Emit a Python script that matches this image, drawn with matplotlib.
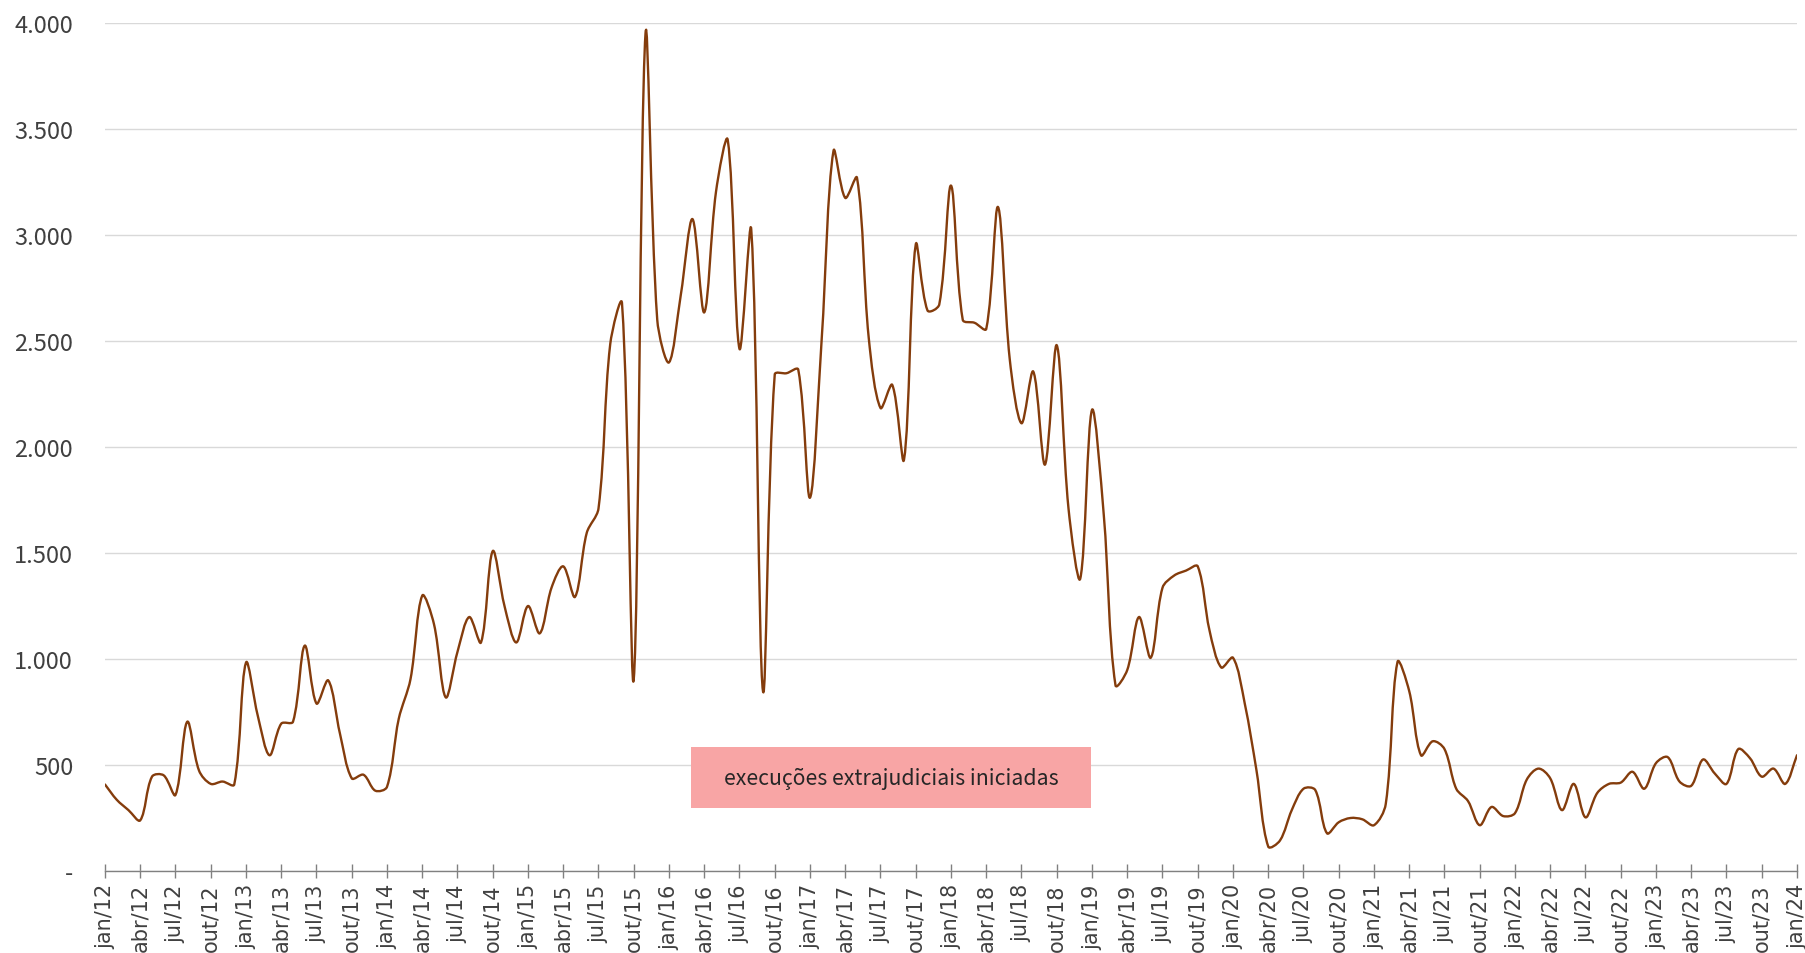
import numpy as np
import matplotlib
matplotlib.use('Agg')
import matplotlib.pyplot as plt
from matplotlib.path import Path
from matplotlib.patches import PathPatch, Rectangle
from matplotlib.ticker import FuncFormatter

# monthly series, jan/12 .. jan/24
start_year = 2012
month_names = ['jan', 'fev', 'mar', 'abr', 'mai', 'jun', 'jul', 'ago', 'set', 'out', 'nov', 'dez']
series_name = 'execuções extrajudiciais iniciadas'

values = [
    408, 336, 287, 239, 445, 451, 359, 704, 474, 411, 422, 408,          # 2012
    983, 733, 546, 695, 704, 1063, 790, 899, 647, 437, 454, 379,         # 2013
    397, 718, 905, 1299, 1164, 819, 1034, 1198, 1078, 1509, 1250, 1078,  # 2014
    1250, 1121, 1336, 1437, 1293, 1595, 1710, 2486, 2678, 905, 3950, 2600,  # 2015
    2399, 2716, 3075, 2635, 3204, 3448, 2463, 3026, 848, 2342, 2348, 2365,  # 2016
    1761, 2514, 3397, 3175, 3270, 2514, 2184, 2293, 1940, 2955, 2644, 2672,  # 2017
    3233, 2600, 2586, 2557, 3132, 2414, 2112, 2356, 1917, 2480, 1710, 1379,  # 2018
    2175, 1681, 876, 948, 1198, 1006, 1336, 1394, 1417, 1437, 1135, 960,    # 2019
    1006, 790, 474, 115, 144, 287, 388, 382, 178, 230, 250, 244,            # 2020
    216, 316, 986, 848, 546, 612, 575, 388, 330, 216, 302, 259,             # 2021
    273, 431, 483, 437, 287, 411, 253, 368, 411, 417, 468, 388,             # 2022
    509, 537, 422, 402, 526, 460, 411, 575, 532, 445, 483, 411,             # 2023
    546,                                                                    # 2024
]

y_ticks = [0, 500, 1000, 1500, 2000, 2500, 3000, 3500, 4000]

x = np.arange(len(values))
y = np.array(values, dtype=float)
n = len(x)

tick_pos = x[::3]
tick_labels = [month_names[m % 12] + '/' + str((start_year + m // 12) % 100).zfill(2) for m in tick_pos]

fig = plt.figure(figsize=(18.06, 9.54), dpi=100)
ax = fig.add_axes([105 / 1806, 1 - 872 / 954, 1692 / 1806, 848 / 954])
ax.set_xlim(0, n - 1)
ax.set_ylim(0, 4000)

# smoothed line like a spreadsheet "smoothed line": bezier through the points,
# tangents scaled by the on-screen length of the neighbouring segments
pts = np.column_stack([x, y])
pix = ax.transData.transform(pts)
seg = np.hypot(*np.diff(pix, axis=0).T)
f = 1.0 / 3.0
out_ctrl = []
in_ctrl = []
for i in range(n):
    a = pts[max(i - 1, 0)]
    b = pts[min(i + 1, n - 1)]
    t = b - a
    dl = seg[i - 1] if i > 0 else 0.0
    dr = seg[i] if i < n - 1 else 0.0
    tot = dl + dr if dl + dr > 0 else 1.0
    out_ctrl.append(pts[i] + t * f * dr / tot)
    in_ctrl.append(pts[i] - t * f * dl / tot)

verts = [tuple(pts[0])]
codes = [Path.MOVETO]
for i in range(n - 1):
    verts += [tuple(out_ctrl[i]), tuple(in_ctrl[i + 1]), tuple(pts[i + 1])]
    codes += [Path.CURVE4] * 3
ax.add_patch(PathPatch(Path(verts, codes), facecolor='none', edgecolor='#843C0C',
                       lw=1.7, capstyle='round', joinstyle='round', zorder=3))

ax.set_yticks(y_ticks)
ax.yaxis.set_major_formatter(FuncFormatter(
    lambda v, p: '-' if v == 0 else '{:,.0f}'.format(v).replace(',', '.')))
ax.grid(axis='y', color='#D9D9D9', lw=1)
ax.set_axisbelow(True)

ax.set_xticks(tick_pos)
ax.set_xticklabels(tick_labels, rotation=90, family=['DejaVu Sans'],
                   fontsize=15, color='#404040')
for lab in ax.get_yticklabels():
    lab.set_family(['Noto Sans CJK JP', 'DejaVu Sans'])
    lab.set_fontsize(17)
    lab.set_color('#404040')

ax.tick_params(axis='y', length=0, pad=23)
ax.tick_params(axis='x', direction='inout', length=9.5, width=1, color='#808080', pad=4)

for s in ['top', 'right', 'left']:
    ax.spines[s].set_visible(False)
ax.spines['bottom'].set_color('#808080')
ax.spines['bottom'].set_linewidth(1)

# series label box
ax.add_patch(Rectangle((0.3463, 0.0743), 0.2364, 0.0719, transform=ax.transAxes,
                       facecolor='#F8A5A5', edgecolor='none', zorder=4))
ax.text(0.3463 + 0.2364 / 2, 0.0743 + 0.0719 / 2, series_name, transform=ax.transAxes,
        ha='center', va='center', fontsize=15.3, color='#262626',
        family=['Noto Sans CJK JP', 'DejaVu Sans'], zorder=5)

fig.savefig('out.png', dpi=100, facecolor='white')
